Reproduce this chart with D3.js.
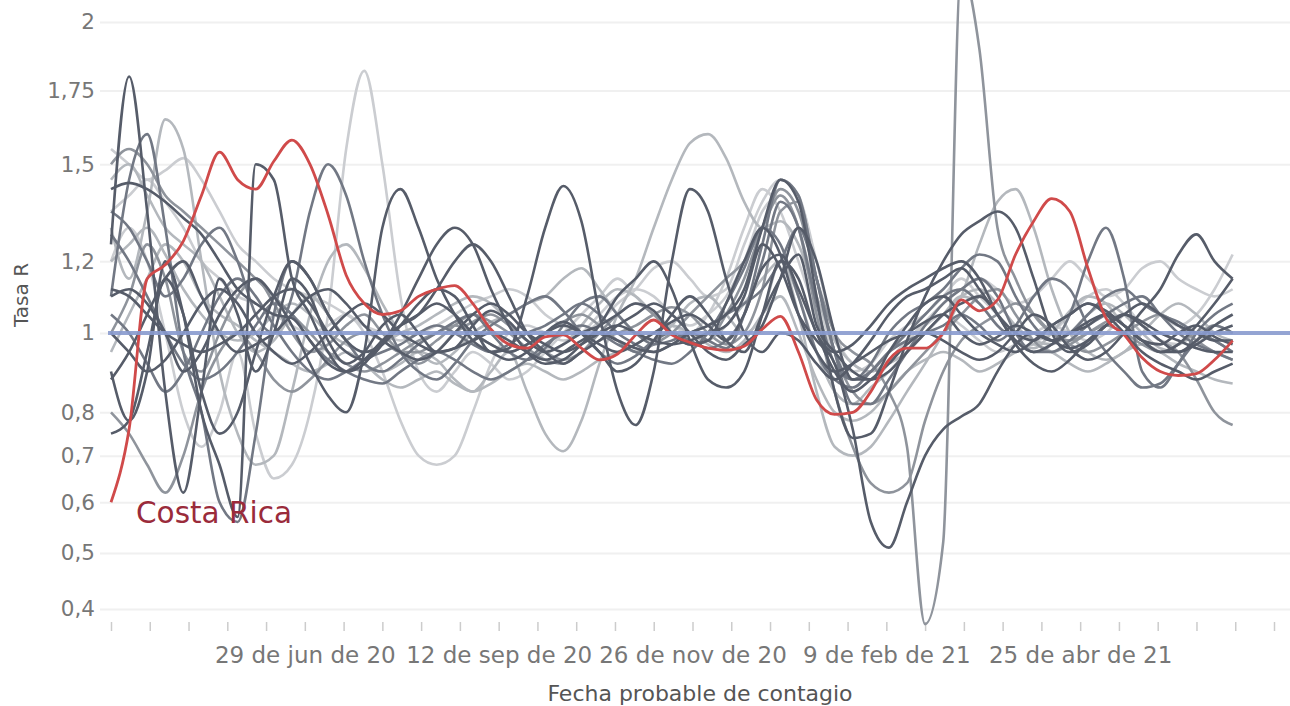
<!DOCTYPE html>
<html>
<head>
<meta charset="utf-8">
<script src="https://cdn.jsdelivr.net/npm/d3@7"></script>
<style>
body{margin:0;background:#fff}
svg{display:block;font-family:"DejaVu Sans",sans-serif}
</style>
</head>
<body>
<div id="chart"></div>
<script>

// -----------------------------
// DATA
// -----------------------------

// weekly points, first one on 15 Apr 2020
const inicio = new Date(2020,3,15)
const pasoDias = 7

const meses = ["ene","feb","mar","abr","may","jun","jul","ago","sep","oct","nov","dic"]
const ticksY = [0.4,0.5,0.6,0.7,0.8,1,1.2,1.5,1.75,2]
const fechasEtiqueta = ["2020-06-29","2020-09-12","2020-11-26","2021-02-09","2021-04-25"]
const referencia = 1

const costaRica = [0.60,0.76,1.15,1.19,1.26,1.40,1.54,1.45,1.42,1.51, 1.58,1.50,1.34,1.16,1.08,1.05,1.06,1.10,1.12,1.13, 1.08,1.01,0.97,0.96,0.99,0.995,0.96,0.93,0.945,0.995, 1.035,0.995,0.975,0.96,0.955,0.965,1.01,1.045,0.95,0.83, 0.795,0.80,0.85,0.93,0.96,0.96,1.00,1.09,1.06,1.09, 1.22,1.32,1.39,1.35,1.18,1.04,0.995,0.935,0.90,0.89, 0.895,0.93,0.98]

const g01 = [1.25,1.80,1.35,0.85,0.62,0.85,1.15,1.05,0.90,1.00, 1.15,1.10,0.98,0.92,0.95,1.02,1.05,1.00,0.95,0.96, 1.02,1.06,1.03,0.98,0.95,0.97,1.00,1.02,1.05,1.08, 1.06,1.00,0.97,0.98,1.08,1.20,1.30,1.22,1.05,0.95, 0.90,0.92,0.95,0.98,1.00,1.03,1.05,1.00,0.97,0.99, 1.02,1.00,0.98,1.00,1.03,1.05,1.02,0.98,0.97,1.00, 1.02,0.99,0.97]
const g02 = [1.42,1.44,1.42,1.38,1.33,1.28,1.20,1.12,1.08,1.05, 1.04,0.98,0.92,0.90,0.93,0.98,1.02,1.05,1.08,1.05, 1.00,0.97,0.95,0.97,1.00,1.02,1.00,0.97,0.95,0.97, 1.00,1.03,1.05,1.02,0.98,1.05,1.18,1.22,1.12,1.00, 0.90,0.85,0.88,0.92,0.97,1.00,0.98,0.95,0.93,0.95, 1.00,1.05,1.02,0.96,0.93,0.95,1.00,1.06,1.12,1.22, 1.28,1.20,1.15]
const g03 = [1.10,1.45,1.60,1.30,0.95,0.80,0.60,0.56,0.75,1.05, 1.20,1.15,1.05,0.98,0.92,0.90,0.93,0.97,1.00,1.03, 1.05,1.00,0.95,0.93,0.96,1.02,1.08,1.10,1.05,1.00, 0.97,0.98,1.00,0.98,0.96,1.05,1.25,1.45,1.40,1.15, 0.95,0.88,0.92,1.00,1.05,1.08,1.12,1.18,1.22,1.20, 1.10,1.02,0.98,1.00,1.05,1.10,1.12,1.08,1.05,1.03, 1.00,0.98,0.95]
const g04 = [1.30,1.15,1.35,1.65,1.55,1.20,0.90,0.75,0.68,0.70, 0.85,1.05,1.20,1.25,1.18,1.08,1.00,0.95,0.92,0.95, 1.00,1.03,1.05,1.08,1.10,1.15,1.18,1.12,1.05,1.00, 0.98,1.02,1.08,1.10,1.05,1.00,1.05,1.20,1.10,0.95, 0.85,0.82,0.86,0.90,0.95,1.00,1.05,1.10,1.08,1.02, 0.98,0.96,1.00,1.06,1.10,1.08,1.02,0.98,0.95,0.97, 1.00,1.02,1.00]
const g05 = [0.90,0.78,0.90,1.20,1.05,0.80,0.68,0.57,1.50,1.45, 1.15,1.05,0.95,0.90,0.92,0.98,1.02,1.05,1.12,1.20, 1.25,1.20,1.10,1.00,0.95,0.92,0.95,0.98,1.02,1.05, 1.08,1.05,1.00,0.95,0.93,0.97,1.02,1.15,1.30,1.20, 1.00,0.88,0.88,0.95,1.02,1.08,1.10,1.05,1.00,0.97, 0.95,0.98,1.02,1.05,1.08,1.05,1.00,0.95,0.92,0.90, 0.88,0.90,0.92]
const g06 = [1.20,1.30,1.20,1.00,0.80,0.72,0.80,0.95,0.75,0.65, 0.68,0.80,1.05,1.55,1.82,1.50,1.10,0.90,0.85,0.90, 0.95,0.92,0.88,0.90,0.95,1.00,1.05,1.10,1.15,1.10, 1.05,1.02,1.00,1.05,1.15,1.30,1.42,1.35,1.20,1.05, 0.95,0.90,0.92,0.98,1.02,1.05,1.10,1.15,1.10,1.05, 1.00,0.98,1.00,1.05,1.10,1.12,1.08,1.02,0.98,0.97, 1.00,1.02,1.00]
const g07 = [1.35,1.30,1.20,1.10,1.15,1.25,1.30,1.20,1.05,1.00, 1.10,1.35,1.50,1.40,1.20,1.05,0.95,0.90,0.88,0.92, 0.98,1.02,1.05,1.08,1.10,1.06,1.00,0.95,0.92,0.94, 0.98,1.00,0.98,0.96,0.98,1.05,1.20,1.38,1.30,1.08, 0.92,0.88,0.90,0.95,1.00,1.05,1.10,1.12,1.08,1.02, 0.98,0.95,0.95,0.98,1.02,1.05,1.08,1.10,1.05,1.00, 0.97,0.95,0.93]
const g08 = [1.10,1.12,1.08,1.00,0.90,0.95,1.05,1.12,1.15,1.10, 1.02,0.92,0.84,0.80,0.95,1.30,1.42,1.30,1.15,1.05, 0.98,0.95,0.93,0.95,1.00,1.03,1.00,0.95,0.90,0.92, 0.98,1.05,1.10,1.05,0.98,0.95,1.05,1.15,1.22,1.02, 0.95,0.90,0.88,0.90,0.95,1.00,1.05,1.08,1.10,1.05, 0.97,0.92,0.90,0.93,0.98,1.02,1.05,1.02,0.98,0.95, 0.98,1.02,1.05]
const g09 = [0.75,0.78,0.95,1.15,1.05,0.85,0.75,0.80,0.95,1.10, 1.20,1.15,1.05,0.98,0.95,0.97,1.02,1.08,1.12,1.10, 1.02,0.95,0.96,1.10,1.30,1.43,1.32,1.05,0.85,0.77, 0.90,1.20,1.42,1.35,1.15,1.00,0.95,1.00,0.98,0.92, 0.88,0.92,0.98,1.05,1.10,1.12,1.15,1.18,1.12,1.05, 1.00,0.98,1.02,1.05,1.08,1.06,1.02,0.98,0.95,0.95, 0.97,1.00,1.02]
const g10 = [1.45,1.50,1.40,1.30,1.25,1.20,1.10,1.00,0.95,0.98, 1.05,1.10,1.05,0.98,0.92,0.90,0.92,0.95,0.93,0.88, 0.85,0.90,0.95,0.85,0.75,0.71,0.78,0.92,1.05,1.15, 1.30,1.45,1.57,1.60,1.52,1.38,1.30,1.32,1.25,1.10, 0.98,0.92,0.90,0.92,0.95,1.00,1.05,1.10,1.12,1.08, 1.02,0.98,0.97,1.00,1.05,1.08,1.05,1.00,0.96,0.95, 0.97,1.00,1.00]
const g11 = [1.35,1.40,1.45,1.38,1.30,1.20,1.15,1.10,1.08,1.05, 1.02,1.00,1.02,1.05,1.00,0.90,0.78,0.70,0.68,0.70, 0.80,0.92,1.00,1.02,1.00,0.98,1.00,1.05,1.10,1.12, 1.10,1.05,1.02,1.05,1.10,1.20,1.35,1.40,1.30,1.10, 0.95,0.90,0.88,0.92,0.98,1.02,1.05,1.02,0.98,0.95, 0.97,1.00,1.02,1.00,0.98,1.00,1.05,1.08,1.05,1.02, 1.05,1.12,1.22]
const g12 = [0.88,0.95,1.05,1.15,1.20,1.10,1.00,0.95,0.97,1.00, 1.05,1.10,1.12,1.08,1.02,0.98,0.95,0.93,0.95,1.00, 1.05,1.08,1.05,1.00,0.97,0.95,0.97,1.00,1.02,1.00, 0.98,0.97,0.98,1.00,1.02,1.10,1.25,1.18,1.05,0.98, 0.92,0.76,0.56,0.51,0.60,0.70,0.76,0.79,0.82,0.90, 0.97,1.00,0.98,0.96,0.98,1.02,1.05,1.08,1.05,1.02, 1.00,0.98,0.98]
const g13 = [1.00,1.10,1.25,1.15,0.95,0.90,1.00,1.10,1.15,1.08, 1.00,0.95,0.97,1.02,1.05,1.00,0.95,0.92,0.95,1.00, 1.03,1.05,1.02,0.98,0.95,0.93,0.95,1.00,1.05,1.08, 1.05,1.00,0.97,0.98,1.05,1.15,1.30,1.42,1.35,1.15, 1.00,0.95,0.92,0.85,0.72,0.375,0.52,2.20,1.90,1.30, 1.15,1.05,1.00,0.98,1.00,1.02,1.00,0.97,0.95,0.97, 1.00,0.98,0.95]
const g14 = [1.50,1.55,1.50,1.40,1.35,1.30,1.25,1.20,1.15,1.10, 1.05,1.00,0.95,0.92,0.90,0.92,0.95,0.98,1.00,1.02, 1.00,0.97,0.95,0.97,1.00,1.03,1.05,1.02,0.98,0.95, 0.97,1.00,1.05,1.10,1.15,1.20,1.30,1.40,1.30,1.05, 0.85,0.72,0.64,0.62,0.64,0.78,0.90,0.98,1.02,1.05, 1.08,1.05,1.00,0.97,0.95,0.97,1.00,1.03,1.05,1.02, 0.98,0.95,0.93]
const g15 = [1.20,1.25,1.30,1.22,1.12,1.05,1.00,0.98,1.00,1.05, 1.08,1.05,1.00,0.97,0.95,0.97,1.00,1.02,1.05,1.08, 1.10,1.08,1.03,0.98,0.95,0.97,1.02,1.08,1.12,1.10, 1.05,1.00,0.97,0.98,1.02,1.08,1.15,1.20,1.05,0.85, 0.72,0.70,0.72,0.78,0.85,0.92,1.00,1.10,1.25,1.38, 1.42,1.30,1.12,1.00,0.95,0.93,0.95,1.00,1.05,1.08, 1.05,1.00,0.98]
const g16 = [1.05,1.00,0.92,0.85,0.90,1.00,1.10,1.15,1.10,1.02, 0.95,0.90,0.88,0.90,0.93,0.95,0.97,1.00,1.02,1.00, 0.97,0.95,0.97,1.00,1.02,1.05,1.08,1.05,1.00,0.97, 0.95,0.97,1.00,1.02,1.05,1.08,1.12,1.20,1.30,1.15, 0.95,0.82,0.82,0.88,0.95,1.02,1.08,1.12,1.15,1.10, 1.00,0.95,0.97,1.05,1.20,1.30,1.15,0.90,0.86,0.92, 1.00,1.05,1.08]
const g17 = [0.80,0.75,0.68,0.62,0.70,0.85,0.95,1.00,0.95,0.88, 0.85,0.88,0.93,0.98,1.00,0.98,0.95,0.95,0.98,1.02, 1.05,1.03,1.00,0.96,0.93,0.92,0.95,0.98,1.00,1.02, 1.05,1.07,1.05,1.00,0.97,1.00,1.12,1.35,1.38,1.15, 0.95,0.85,0.82,0.85,0.90,0.95,1.00,1.05,1.10,1.12, 1.05,0.98,0.95,0.97,1.00,1.03,1.05,1.02,0.98,0.95, 0.88,0.80,0.77]
const g18 = [1.12,1.10,1.05,1.00,0.97,0.95,0.97,1.00,1.05,1.10, 1.12,1.08,1.00,0.95,0.93,0.97,1.05,1.15,1.25,1.30, 1.25,1.12,1.02,0.95,0.92,0.93,0.97,1.02,1.10,1.15, 1.20,1.12,0.98,0.88,0.86,0.90,1.05,1.20,1.15,1.00, 0.95,0.97,1.02,1.08,1.12,1.15,1.18,1.20,1.15,1.05, 0.98,0.95,0.97,1.00,1.02,1.05,1.02,0.98,0.95,0.97, 1.02,1.08,1.15]
const g19 = [1.55,1.50,1.45,1.48,1.52,1.45,1.35,1.25,1.20,1.15, 1.12,1.10,1.08,1.05,1.02,1.00,0.98,1.00,1.02,1.05, 1.08,1.10,1.12,1.10,1.05,1.02,1.00,1.03,1.08,1.12, 1.18,1.20,1.15,1.10,1.12,1.25,1.38,1.45,1.40,1.20, 1.00,0.92,0.90,0.93,0.98,1.03,1.08,1.12,1.15,1.12, 1.08,1.10,1.15,1.20,1.15,1.10,1.12,1.18,1.20,1.15, 1.12,1.10,1.12]
const g20 = [1.28,1.20,1.10,1.00,0.92,0.88,0.90,0.95,1.02,1.08, 1.05,0.98,0.93,0.90,0.88,0.87,0.90,0.93,0.95,0.93, 0.90,0.88,0.90,0.93,0.97,1.00,1.02,1.00,0.97,0.95, 0.93,0.92,0.95,1.00,1.08,1.18,1.30,1.25,1.10,0.95, 0.88,0.86,0.90,0.95,0.98,1.00,1.02,1.05,1.02,0.98, 1.02,1.10,1.15,1.12,1.02,0.95,0.90,0.86,0.87,0.92, 0.98,1.02,1.00]
const g21 = [0.95,1.05,1.15,1.25,1.20,1.10,1.05,1.02,0.98,0.95, 0.92,0.90,0.92,0.95,0.92,0.88,0.86,0.88,0.90,0.87, 0.85,0.87,0.90,0.92,0.90,0.88,0.90,0.93,0.95,0.97, 1.00,1.02,1.00,0.97,0.95,0.98,1.05,1.10,1.00,0.88, 0.80,0.78,0.80,0.85,0.90,0.93,0.95,0.93,0.90,0.92, 0.95,0.97,0.95,0.92,0.90,0.92,0.95,0.97,0.95,0.92, 0.90,0.88,0.87]
const g22 = [1.00,0.95,0.90,0.93,1.00,1.08,1.12,1.08,1.00,0.95, 0.92,0.95,1.00,1.05,1.08,1.05,1.00,0.97,0.95,0.96, 0.98,1.00,0.98,0.95,0.93,0.95,0.98,1.00,0.98,0.96, 0.95,0.97,1.00,1.02,1.05,1.12,1.30,1.45,1.38,1.10, 0.85,0.74,0.75,0.85,0.98,1.10,1.20,1.28,1.32,1.35, 1.30,1.15,1.00,0.95,0.97,1.02,1.05,1.03,1.00,0.98, 0.96,0.95,0.95]

// light ones first so the dark ones sit on top
const otrosPaises = [g06,g11,g19,g04,g10,g15,g21,g13,g14,g17,g03,g07,g16,g20,g01,g02,g05,g08,g09,g12,g18,g22]
const tonos = ["#cbcdd1","#cbcdd1","#cbcdd1","#b4b8bd","#b4b8bd","#b4b8bd","#b4b8bd","#8f949c","#8f949c","#8f949c","#727884","#727884","#727884","#727884","#565c69","#565c69","#565c69","#565c69","#565c69","#565c69","#565c69","#565c69"]


// -----------------------------
// SETUP
// -----------------------------

const width = 1290
const height = 706

const svg = d3.select("#chart")
.append("svg")
.attr("width",width)
.attr("height",height)

const semanas = d3.range(costaRica.length).map(i=>d3.timeDay.offset(inicio,i*pasoDias))
const fechasEje = d3.range(31).map(i=>d3.timeDay.offset(inicio,i*15))
const etiquetas = fechasEtiqueta.map(s=>+d3.timeParse("%Y-%m-%d")(s))

const x = d3.scaleTime()
.domain([inicio,d3.timeDay.offset(inicio,450)])
.range([111,1274])

const y = d3.scaleSqrt()
.domain([0.4,2])
.range([609,22])

const coma = d=>String(d).replace(".",",")
const fechaCorta = d=>`${d.getDate()} de ${meses[d.getMonth()]} de ${String(d.getFullYear()).slice(2)}`


// GRID

svg.append("g")
.attr("transform","translate(100,0)")
.call(d3.axisLeft(y).tickValues(ticksY).tickSize(-1190).tickFormat(""))
.call(g=>g.select(".domain").remove())
.call(g=>g.selectAll("line").attr("stroke","#f0f0f0").attr("stroke-width",2))


// AXES

svg.append("g")
.attr("transform","translate(100,0)")
.call(d3.axisLeft(y).tickValues(ticksY).tickSize(0).tickPadding(5).tickFormat(coma))
.call(g=>g.select(".domain").remove())
.call(g=>g.selectAll("text")
.attr("font-family","DejaVu Sans")
.attr("font-size",21.5)
.attr("fill","#777"))

svg.append("g")
.attr("transform","translate(0,622)")
.call(d3.axisBottom(x)
.tickValues(fechasEje)
.tickSize(9)
.tickPadding(16)
.tickFormat(d=>etiquetas.includes(+d) ? fechaCorta(d) : ""))
.call(g=>g.select(".domain").remove())
.call(g=>g.selectAll("line").attr("stroke","#cccccc").attr("stroke-width",1.5))
.call(g=>g.selectAll("text")
.attr("font-family","DejaVu Sans")
.attr("font-size",23)
.attr("fill","#777"))

svg.append("text")
.attr("x",700)
.attr("y",701)
.attr("text-anchor","middle")
.attr("font-size",22)
.attr("fill","#555")
.text("Fecha probable de contagio")

svg.append("text")
.attr("transform","translate(28,295) rotate(-90)")
.attr("text-anchor","middle")
.attr("font-size",20)
.attr("fill","#555")
.text("Tasa R")


// LINES

const linea = d3.line()
.x((d,i)=>x(semanas[i]))
.y(d=>y(d))
.curve(d3.curveMonotoneX)

svg.append("g")
.selectAll("path")
.data(otrosPaises)
.join("path")
.attr("fill","none")
.attr("stroke",(d,i)=>tonos[i])
.attr("stroke-width",2.6)
.attr("d",linea)

svg.append("path")
.datum(costaRica)
.attr("fill","none")
.attr("stroke","#d04a4a")
.attr("stroke-width",2.8)
.attr("d",linea)

svg.append("text")
.attr("x",136)
.attr("y",523)
.attr("font-size",29.5)
.attr("fill","#9a2b3b")
.text("Costa Rica")


// REFERENCE LINE R = 1

svg.append("line")
.attr("x1",108)
.attr("x2",width)
.attr("y1",y(referencia))
.attr("y2",y(referencia))
.attr("stroke","#8a9cd0")
.attr("stroke-width",4)
.attr("opacity",0.9)

</script>
</body>
</html>
